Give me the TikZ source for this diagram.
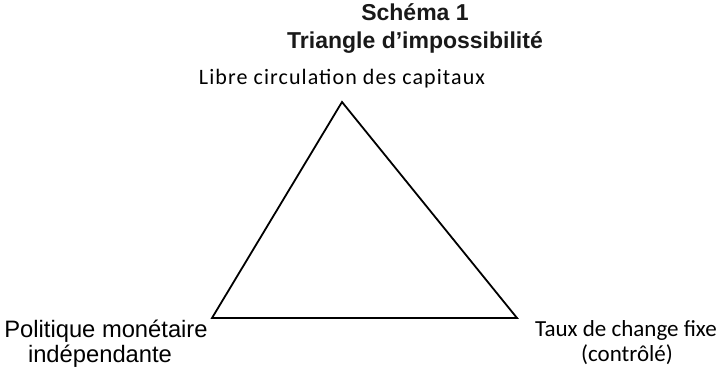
\documentclass[tikz,border=0pt]{standalone}
\usepackage{fontspec}
\setmainfont{Liberation Sans}
\newfontfamily\titlefont{Liberation Sans}
\newfontfamily\labfont{Carlito}
\newfontfamily\toplabfont[LetterSpace=5]{Carlito}
\newfontfamily\leftfont{Liberation Sans}
\tikzset{
  titletext/.style={anchor=base, font=\titlefont\bfseries\fontsize{23}{27}\selectfont, text=black!90},
  toptext/.style={anchor=base, font=\toplabfont\fontsize{22}{26}\selectfont, text=black},
  righttext/.style={anchor=base, font=\labfont\fontsize{23}{27}\selectfont, text=black},
  lefttext/.style={anchor=base, font=\leftfont\fontsize{23.75}{28}\selectfont, text=black},
  edge/.style={line width=1.8pt, black}
}
\begin{document}
\begin{tikzpicture}[x=1pt,y=-1pt]
\useasboundingbox (0,0) rectangle (722,372);
\node[titletext] (t1) at (415,20) {Schéma 1};
\node[titletext] (t2) at (415,48) {Triangle d’impossibilité};
\coordinate (A) at (342,102);
\coordinate (B) at (212,318);
\coordinate (C) at (517,318);
\draw[edge, line join=miter] (A) -- (B) -- (C) -- cycle;
\node[toptext] (top) at (342,84) {Libre circulation des capitaux};
\node[lefttext] (l1) at (106,337) {Politique monétaire};
\node[lefttext] (l2) at (100,362) {indépendante};
\node[righttext] (r1) at (626,336) {Taux de change fixe};
\node[righttext] (r2) at (627,361) {(contrôlé)};
\end{tikzpicture}
\end{document}
